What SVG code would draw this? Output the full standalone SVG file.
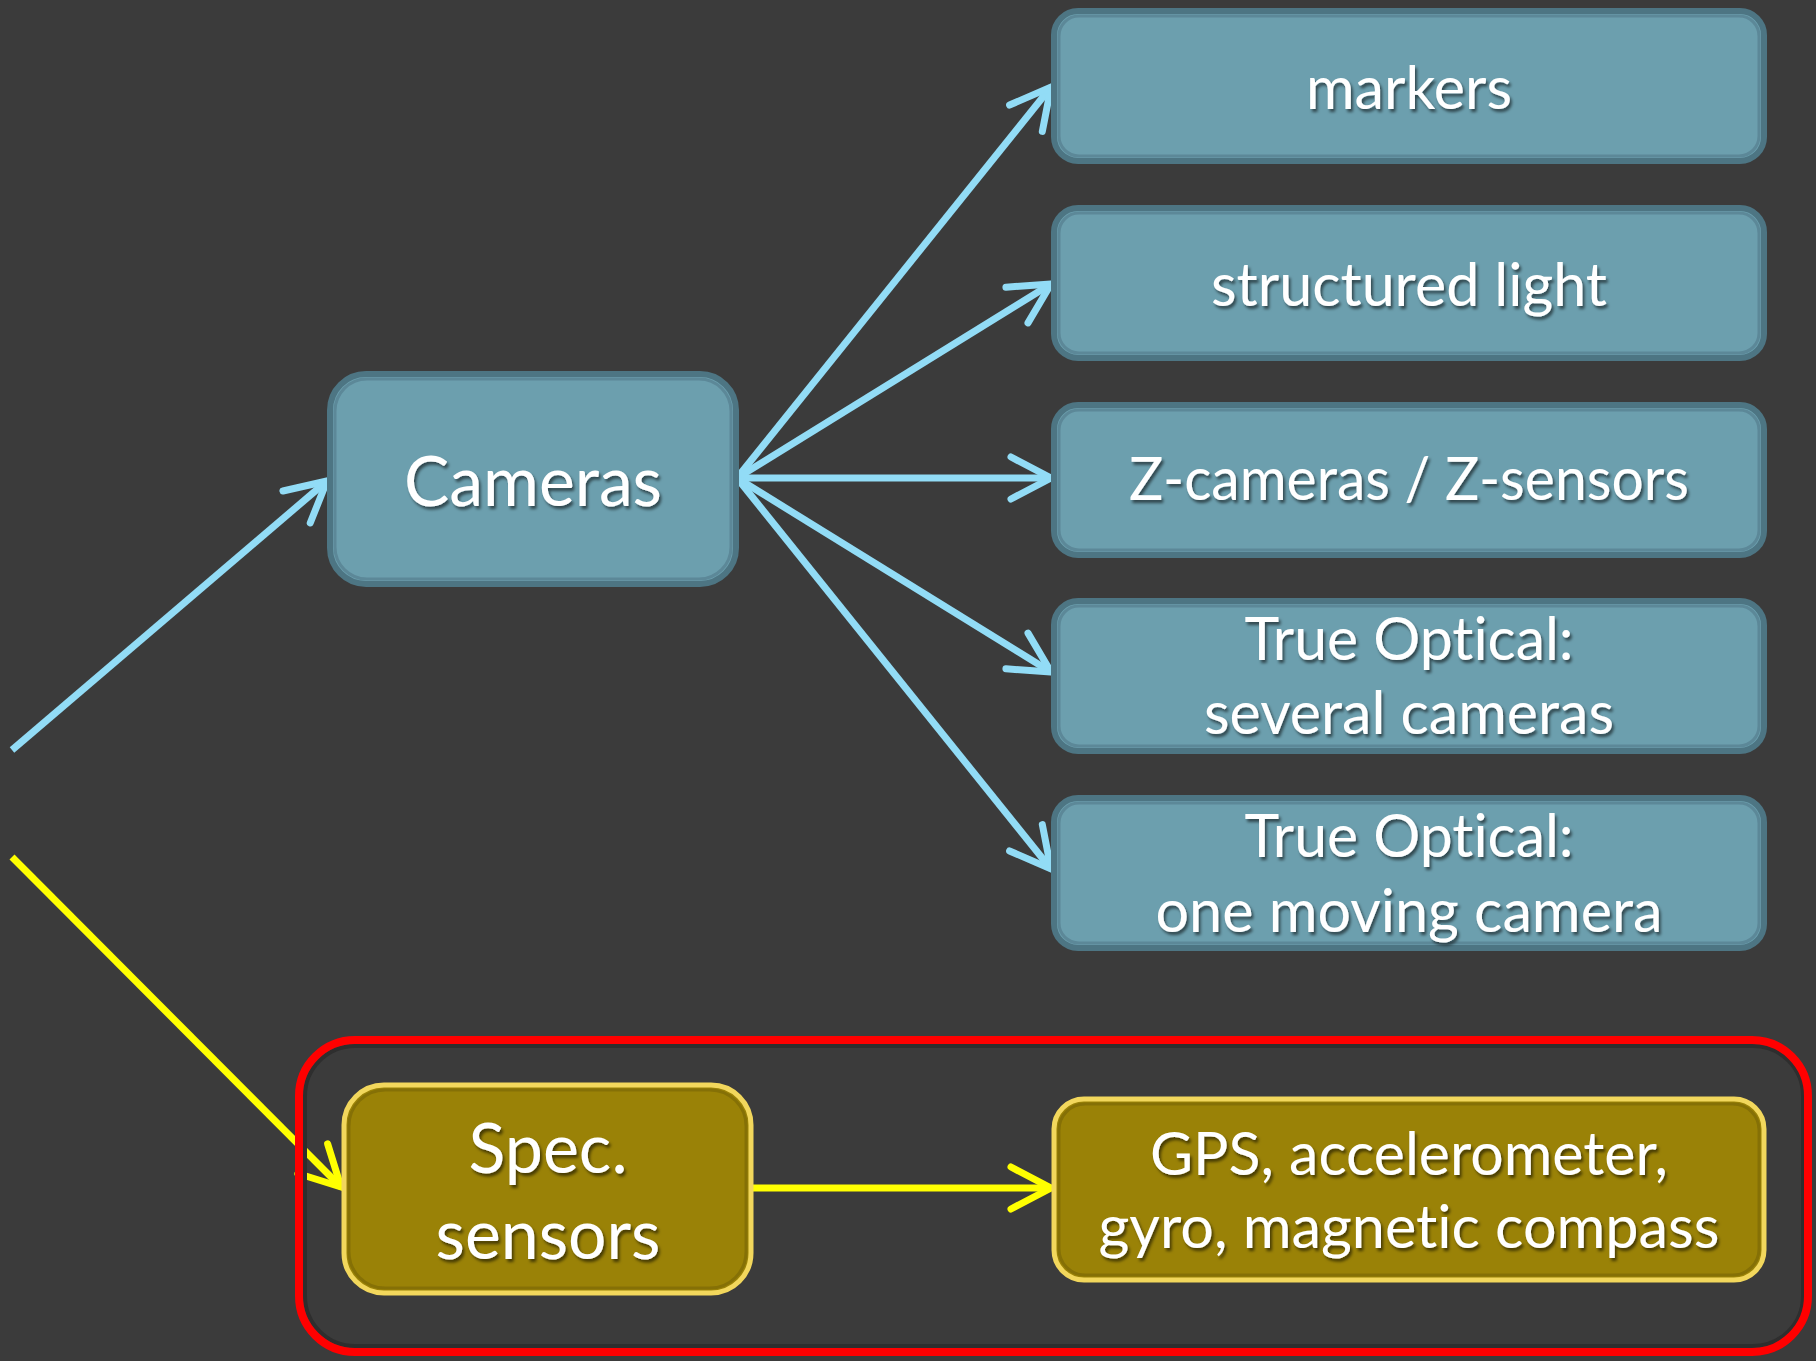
<svg xmlns="http://www.w3.org/2000/svg" width="1816" height="1361" viewBox="0 0 1816 1361">
  <defs>
    <style>
      .bg { fill: #3b3b3b; }
      .blue-box { fill: #6c9fae; stroke: #4d7583; stroke-width: 6; }
      .blue-inner { fill: none; stroke: #5c8898; stroke-width: 3; }
      .gold-box { fill: #9a8207; stroke: #f2d75c; stroke-width: 5; }
      .gold-inner { fill: none; stroke: #857006; stroke-width: 3; }
      .frame { fill: none; stroke: #ff0000; stroke-width: 8; }
      .frame-shade { fill: none; stroke: #2e2e2e; stroke-width: 4; }
      .label { fill: #ffffff; font-family: Lato, "Open Sans", "Liberation Sans", sans-serif; text-anchor: middle; font-variant-ligatures: none; filter: url(#textShadow); }
      .sm { font-size: 60px; }
      .lg { font-size: 70px; }
      .wire-blue { fill: none; stroke: #92dcf6; stroke-width: 7; stroke-linecap: butt; }
      .wire-yellow { fill: none; stroke: #ffff00; stroke-width: 7; stroke-linecap: butt; }
    </style>
    <filter id="textShadow" x="-10%" y="-20%" width="120%" height="150%">
      <feDropShadow dx="2" dy="3" stdDeviation="1.5" flood-color="#000000" flood-opacity="0.55"/>
    </filter>
    <marker id="headBlue" viewBox="-46 -26 52 52" markerWidth="52" markerHeight="52" refX="0" refY="0" orient="auto" markerUnits="userSpaceOnUse">
      <path d="M-40,-21 L0,0 L-40,21" fill="none" stroke="#92dcf6" stroke-width="7" stroke-linecap="round" stroke-linejoin="miter"/>
    </marker>
    <marker id="headYellow" viewBox="-46 -26 52 52" markerWidth="52" markerHeight="52" refX="0" refY="0" orient="auto" markerUnits="userSpaceOnUse">
      <path d="M-40,-21 L0,0 L-40,21" fill="none" stroke="#ffff00" stroke-width="7" stroke-linecap="round" stroke-linejoin="miter"/>
    </marker>
  </defs>

  <rect class="bg" x="0" y="0" width="1816" height="1361"/>

  <!-- connectors -->
  <g id="connectors">
    <line class="wire-blue" x1="12" y1="750" x2="327" y2="481" marker-end="url(#headBlue)"/>
    <line class="wire-blue" x1="737" y1="478" x2="1051" y2="87" marker-end="url(#headBlue)"/>
    <line class="wire-blue" x1="737" y1="478" x2="1051" y2="284" marker-end="url(#headBlue)"/>
    <line class="wire-blue" x1="737" y1="478" x2="1051" y2="478" marker-end="url(#headBlue)"/>
    <line class="wire-blue" x1="737" y1="478" x2="1051" y2="672" marker-end="url(#headBlue)"/>
    <line class="wire-blue" x1="737" y1="478" x2="1051" y2="869" marker-end="url(#headBlue)"/>
    <line class="wire-yellow" x1="12" y1="857" x2="341" y2="1187" marker-end="url(#headYellow)"/>
    <line class="wire-yellow" x1="753" y1="1188" x2="1051" y2="1188" marker-end="url(#headYellow)"/>
  </g>

  <!-- highlight frame round the sensor branch -->
  <g id="sensor-frame">
    <rect class="frame-shade" x="305" y="1046" width="1498" height="300" rx="50"/>
    <rect class="frame" x="299" y="1040" width="1509" height="312" rx="56"/>
  </g>

  <g id="cameras">
    <rect class="blue-box" x="330" y="374" width="406" height="210" rx="36"/>
    <rect class="blue-inner" x="335" y="379" width="396" height="200" rx="32"/>
    <text class="label lg" x="533" y="506" textLength="258" lengthAdjust="spacingAndGlyphs">Cameras</text>
  </g>

  <g id="markers">
    <rect class="blue-box" x="1054" y="11" width="710" height="150" rx="24"/>
    <rect class="blue-inner" x="1059" y="16" width="700" height="140" rx="20"/>
    <text class="label sm" x="1409" y="109" textLength="206" lengthAdjust="spacingAndGlyphs">markers</text>
  </g>

  <g id="structured-light">
    <rect class="blue-box" x="1054" y="208" width="710" height="150" rx="24"/>
    <rect class="blue-inner" x="1059" y="213" width="700" height="140" rx="20"/>
    <text class="label sm" x="1409" y="306" textLength="396" lengthAdjust="spacingAndGlyphs">structured light</text>
  </g>

  <g id="z-cameras">
    <rect class="blue-box" x="1054" y="405" width="710" height="150" rx="24"/>
    <rect class="blue-inner" x="1059" y="410" width="700" height="140" rx="20"/>
    <text class="label sm" x="1409" y="500" textLength="560" lengthAdjust="spacingAndGlyphs">Z-cameras / Z-sensors</text>
  </g>

  <g id="optical-several">
    <rect class="blue-box" x="1054" y="601" width="710" height="150" rx="24"/>
    <rect class="blue-inner" x="1059" y="606" width="700" height="140" rx="20"/>
    <text class="label sm" x="1409" y="660" textLength="329" lengthAdjust="spacingAndGlyphs">True Optical:</text>
    <text class="label sm" x="1409" y="734" textLength="410" lengthAdjust="spacingAndGlyphs">several cameras</text>
  </g>

  <g id="optical-moving">
    <rect class="blue-box" x="1054" y="798" width="710" height="150" rx="24"/>
    <rect class="blue-inner" x="1059" y="803" width="700" height="140" rx="20"/>
    <text class="label sm" x="1409" y="857" textLength="329" lengthAdjust="spacingAndGlyphs">True Optical:</text>
    <text class="label sm" x="1409" y="932" textLength="507" lengthAdjust="spacingAndGlyphs">one moving camera</text>
  </g>

  <g id="spec-sensors">
    <rect class="gold-box" x="344" y="1085" width="407" height="208" rx="40"/>
    <rect class="gold-inner" x="349" y="1090" width="397" height="198" rx="36"/>
    <text class="label lg" x="548" y="1173" textLength="159" lengthAdjust="spacingAndGlyphs">Spec.</text>
    <text class="label lg" x="548" y="1259" textLength="225" lengthAdjust="spacingAndGlyphs">sensors</text>
  </g>

  <g id="gps-sensors">
    <rect class="gold-box" x="1054" y="1099" width="710" height="181" rx="30"/>
    <rect class="gold-inner" x="1059" y="1104" width="700" height="171" rx="26"/>
    <text class="label sm" x="1409" y="1175" textLength="518" lengthAdjust="spacingAndGlyphs">GPS, accelerometer,</text>
    <text class="label sm" x="1409" y="1248" textLength="621" lengthAdjust="spacingAndGlyphs">gyro, magnetic compass</text>
  </g>
</svg>
